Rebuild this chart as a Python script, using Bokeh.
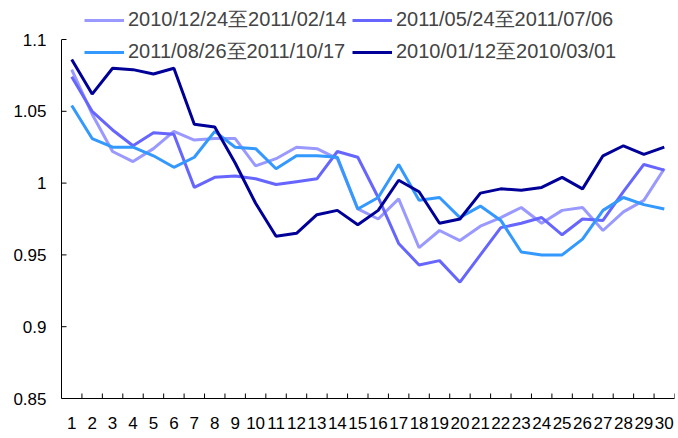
from bokeh.plotting import figure
from bokeh.models import (Range1d, FixedTicker, LinearAxis, Legend, LegendItem,
                          CustomJSTickFormatter, ColumnDataSource)
from bokeh.embed import file_html
from bokeh.resources import INLINE

days = list(range(1, 31))

names = ["2010/12/24至2011/02/14", "2011/05/24至2011/07/06",
         "2011/08/26至2011/10/17", "2010/01/12至2010/03/01"]

s_2010_12 = [1.079, 1.048, 1.022, 1.015, 1.024, 1.036, 1.030, 1.031, 1.031, 1.012,
             1.017, 1.025, 1.024, 1.017, 0.982, 0.975, 0.989, 0.955, 0.967, 0.960,
             0.970, 0.976, 0.983, 0.972, 0.981, 0.983, 0.967, 0.980, 0.988, 1.010]
s_2011_05 = [1.074, 1.050, 1.037, 1.026, 1.035, 1.034, 0.997, 1.004, 1.005, 1.003,
             0.999, 1.001, 1.003, 1.022, 1.018, 0.990, 0.958, 0.943, 0.946, 0.931,
             0.950, 0.969, 0.972, 0.976, 0.964, 0.975, 0.974, 0.994, 1.013, 1.009]
s_2011_08 = [1.054, 1.031, 1.025, 1.025, 1.019, 1.011, 1.018, 1.036, 1.025, 1.024,
             1.010, 1.019, 1.019, 1.018, 0.982, 0.990, 1.013, 0.988, 0.990, 0.976,
             0.984, 0.974, 0.952, 0.950, 0.950, 0.961, 0.981, 0.990, 0.985, 0.982]
s_2010_01 = [1.086, 1.062, 1.080, 1.079, 1.076, 1.080, 1.041, 1.039, 1.014, 0.986,
             0.963, 0.965, 0.978, 0.981, 0.971, 0.981, 1.002, 0.994, 0.972, 0.975,
             0.993, 0.996, 0.995, 0.997, 1.004, 0.996, 1.019, 1.026, 1.020, 1.025]

y_ticks = [0.85, 0.9, 0.95, 1.0, 1.05, 1.1]
y_min, y_max = 0.85, 1.1

series = [s_2010_12, s_2011_05, s_2011_08, s_2010_01]
colors = ["#9999FF", "#6666FF", "#3399FF", "#000099"]

FONT = "Liberation Sans"

W, H = 676, 432
BL, BR, BB = 61, 2, 34
TOP_PAD = 4
PX_PER_Y = 359 / (y_max - y_min)
y_top = y_max + (39 - TOP_PAD) / PX_PER_Y
x_lo, x_hi = 0.5, len(days) + 0.5
PX_PER_X = (W - BL - BR) / (x_hi - x_lo)
TICK = 5

p = figure(width=W, height=H, output_backend="svg", toolbar_location=None,
           x_range=Range1d(x_lo, x_hi), y_range=Range1d(y_min, y_top),
           min_border_left=BL, min_border_right=BR, min_border_top=TOP_PAD, min_border_bottom=BB)
p.outline_line_color = None
p.xgrid.visible = False
p.ygrid.visible = False
p.background_fill_color = "white"
p.border_fill_color = "white"

# inward tick marks (x: at category boundaries, y: at value ticks)
xb = [d - 0.5 for d in days] + [x_hi]
p.segment(x0=xb, x1=xb, y0=[y_min] * len(xb), y1=[y_min + TICK / PX_PER_Y] * len(xb),
          line_color="black", line_width=1)
p.segment(x0=[x_lo] * len(y_ticks), x1=[x_lo + TICK / PX_PER_X] * len(y_ticks),
          y0=y_ticks, y1=y_ticks, line_color="black", line_width=1)

renderers = []
for s, c in zip(series, colors):
    src = ColumnDataSource(dict(x=days, y=s))
    r = p.line("x", "y", source=src, line_color=c, line_width=3)
    renderers.append(r)

# y axis
ya = p.yaxis[0]
ya.bounds = (y_min, y_max)
ya.ticker = FixedTicker(ticks=y_ticks)
ya.formatter = CustomJSTickFormatter(code="return tick.toFixed(2).replace(/0+$/,'').replace(/\\.$/,'');")
ya.major_tick_out = 0
ya.major_tick_in = 0
ya.major_tick_line_color = None
ya.minor_tick_line_color = None
ya.major_label_standoff = 15
ya.major_label_text_font = FONT
ya.major_label_text_font_size = "17px"
ya.major_label_text_color = "black"
ya.axis_line_color = "black"
ya.axis_line_width = 1

# x axis line (no labels)
xa = p.xaxis[0]
xa.ticker = FixedTicker(ticks=xb)
xa.formatter = CustomJSTickFormatter(code="return '';")
xa.major_tick_out = 0
xa.major_tick_in = 0
xa.major_tick_line_color = None
xa.minor_tick_line_color = None
xa.major_label_standoff = 0
xa.axis_line_color = "black"
xa.axis_line_width = 1

# x axis labels at category centres
xl = LinearAxis(ticker=FixedTicker(ticks=days))
xl.axis_line_color = None
xl.major_tick_line_color = None
xl.minor_tick_line_color = None
xl.major_label_standoff = 12
xl.major_label_text_font = FONT
xl.major_label_text_font_size = "17px"
xl.major_label_text_color = "black"
p.add_layout(xl, "below")

def make_legend(idx, loc):
    lg = Legend(items=[LegendItem(label=names[i], renderers=[renderers[i]]) for i in idx],
                location=loc, orientation="vertical")
    lg.label_text_font = FONT
    lg.label_text_font_size = "20px"
    lg.glyph_width = 40
    lg.label_standoff = 4
    lg.padding = 0
    lg.margin = 0
    lg.spacing = 5
    lg.border_line_color = None
    lg.background_fill_alpha = 0
    return lg

p.add_layout(make_legend([0, 2], (23, 333)), "center")
p.add_layout(make_legend([1, 3], (291, 333)), "center")

open("out.html", "w").write(file_html(p, INLINE))
